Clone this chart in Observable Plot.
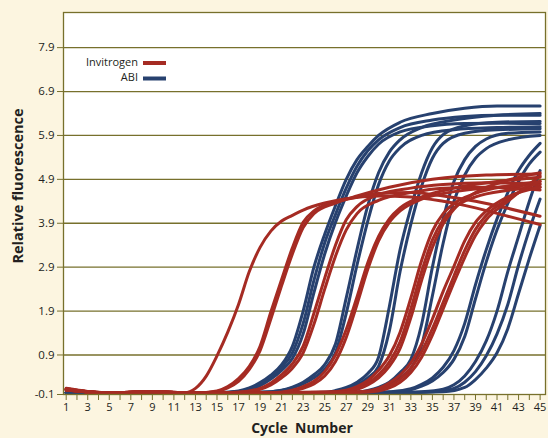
<!DOCTYPE html>
<html><head><meta charset="utf-8">
<script src="https://cdn.jsdelivr.net/npm/d3@7"></script>
<script src="https://cdn.jsdelivr.net/npm/@observablehq/plot@0.6"></script>
<style>
html,body{margin:0;padding:0;background:#fcf5e0;}
#chart{width:548px;height:438px;position:relative;}
svg{font-family:"Open Sans",sans-serif;}
</style></head><body><div id="chart"></div>
<script>
// ---- series & styling ----
const seriesNames = ["Invitrogen", "ABI"];
const seriesColors = ["#a52b23", "#27416f"];

// ---- axis ticks ----
const xTicks = [1,2,3,4,5,6,7,8,9,10,11,12,13,14,15,16,17,18,19,20,21,22,23,24,25,26,27,28,29,30,31,32,33,34,35,36,37,38,39,40,41,42,43,44,45];
const xTickLabels = ["1","","3","","5","","7","","9","","11","","13","","15","","17","","19","","21","","23","","25","","27","","29","","31","","33","","35","","37","","39","","41","","43","","45"];
const yTicks = [0, 0.9, 1.9, 2.9, 3.9, 4.9, 5.9, 6.9, 7.9];
const yTickLabels = ["-0.1", "0.9", "1.9", "2.9", "3.9", "4.9", "5.9", "6.9", "7.9"];

// ---- Invitrogen curves: [cycle, relative fluorescence] ----
const inv1 = [[1,0.14],[3,0.07],[5,0.03],[7,0.04],[9,0.07],[11,0.04],[12,0.04],[13,0.14],[14,0.42],[15,0.88],[16,1.42],[17,2.05],[18,2.8],[19,3.35],[20,3.72],[21,3.95],[22,4.08],[23,4.2],[25,4.36],[27,4.46],[30,4.52],[33,4.5],[36,4.4],[39,4.25],[42,4.06],[45,3.87]];
const inv2 = [[1,0.12],[3,0.06],[5,0.03],[7,0.05],[9,0.06],[11,0.03],[13,0.03],[15,0.08],[16,0.18],[17,0.36],[18,0.64],[19,1.1],[20,1.88],[21,2.62],[22,3.34],[23,3.92],[24,4.18],[26,4.38],[28,4.5],[30,4.58],[33,4.6],[36,4.52],[39,4.4],[42,4.24],[45,4.06]];
const inv3 = [[1,0.11],[3,0.06],[5,0.04],[7,0.05],[9,0.07],[11,0.04],[13,0.03],[15,0.07],[16,0.15],[17,0.3],[18,0.57],[19,1.0],[20,1.72],[21,2.48],[22,3.2],[23,3.8],[24,4.12],[26,4.36],[28,4.52],[31,4.72],[35,4.9],[40,5.0],[45,5.02]];
const inv4 = [[1,0.1],[5,0.03],[9,0.06],[13,0.03],[17,0.05],[19,0.14],[20,0.26],[21,0.45],[22,0.7],[23,1.1],[24,1.85],[25,2.65],[26,3.4],[27,3.98],[28,4.28],[30,4.55],[33,4.7],[36,4.78],[40,4.82],[45,4.8]];
const inv5 = [[1,0.11],[5,0.04],[9,0.06],[13,0.03],[17,0.05],[19,0.12],[20,0.22],[21,0.38],[22,0.6],[23,0.95],[24,1.6],[25,2.4],[26,3.15],[27,3.75],[28,4.12],[30,4.42],[33,4.6],[36,4.7],[40,4.72],[45,4.66]];
const inv6 = [[1,0.12],[5,0.03],[9,0.06],[13,0.03],[20,0.04],[22,0.1],[23,0.18],[24,0.3],[25,0.52],[26,0.9],[27,1.48],[28,2.22],[29,3.0],[30,3.6],[31,4.0],[32,4.25],[34,4.5],[37,4.7],[41,4.85],[45,4.95]];
const inv7 = [[1,0.1],[5,0.04],[9,0.06],[13,0.03],[20,0.04],[22,0.08],[23,0.14],[24,0.24],[25,0.42],[26,0.75],[27,1.3],[28,2.05],[29,2.85],[30,3.5],[31,3.92],[32,4.18],[34,4.45],[37,4.62],[41,4.72],[45,4.78]];
const inv8 = [[1,0.12],[5,0.03],[9,0.06],[13,0.03],[25,0.05],[27,0.1],[28,0.18],[29,0.32],[30,0.55],[31,0.88],[32,1.42],[33,2.2],[34,3.05],[35,3.72],[36,4.12],[37,4.35],[39,4.58],[42,4.75],[45,4.85]];
const inv9 = [[1,0.1],[5,0.04],[9,0.06],[13,0.03],[25,0.05],[27,0.08],[28,0.14],[29,0.26],[30,0.45],[31,0.74],[32,1.2],[33,1.95],[34,2.8],[35,3.52],[36,3.98],[37,4.25],[39,4.5],[42,4.65],[45,4.72]];
const inv10 = [[1,0.13],[5,0.03],[9,0.07],[13,0.03],[25,0.05],[27,0.07],[28,0.12],[29,0.22],[30,0.38],[31,0.64],[32,1.05],[33,1.75],[34,2.6],[35,3.35],[36,3.88],[37,4.22],[39,4.6],[42,4.88],[45,5.05]];
const inv11 = [[1,0.12],[5,0.03],[9,0.06],[13,0.03],[27,0.05],[29,0.08],[30,0.14],[31,0.26],[32,0.44],[33,0.72],[34,1.15],[35,1.72],[36,2.35],[37,2.92],[38,3.5],[39,3.92],[40,4.18],[42,4.5],[45,4.72]];
const inv12 = [[1,0.11],[5,0.04],[9,0.06],[13,0.03],[28,0.05],[30,0.1],[31,0.2],[32,0.35],[33,0.6],[34,0.98],[35,1.5],[36,2.1],[37,2.7],[38,3.28],[39,3.76],[40,4.08],[42,4.45],[45,4.86]];
const inv13 = [[1,0.13],[5,0.03],[9,0.07],[13,0.03],[28,0.05],[30,0.08],[31,0.15],[32,0.28],[33,0.5],[34,0.85],[35,1.35],[36,1.95],[37,2.55],[38,3.12],[39,3.62],[40,3.98],[42,4.4],[45,4.98]];

// ---- ABI curves: [cycle, relative fluorescence] ----
const abi1 = [[1,0.05],[5,0.02],[10,0.03],[15,0.04],[17,0.08],[18,0.15],[19,0.27],[20,0.44],[21,0.68],[22,1.1],[23,1.9],[24,2.9],[25,3.65],[26,4.3],[27,4.9],[28,5.35],[29,5.65],[30,5.9],[32,6.2],[35,6.4],[38,6.52],[41,6.57],[45,6.57]];
const abi2 = [[1,0.05],[5,0.03],[10,0.03],[15,0.04],[17,0.07],[18,0.13],[19,0.24],[20,0.4],[21,0.62],[22,0.95],[23,1.62],[24,2.6],[25,3.45],[26,4.1],[27,4.7],[28,5.2],[29,5.55],[30,5.8],[32,6.08],[35,6.25],[38,6.33],[41,6.36],[45,6.36]];
const abi3 = [[1,0.04],[5,0.02],[10,0.03],[15,0.04],[17,0.06],[18,0.11],[19,0.2],[20,0.35],[21,0.55],[22,0.82],[23,1.38],[24,2.32],[25,3.2],[26,3.92],[27,4.52],[28,5.05],[29,5.42],[30,5.7],[32,5.98],[35,6.12],[38,6.17],[41,6.18],[45,6.17]];
const abi4 = [[1,0.04],[10,0.03],[19,0.05],[21,0.1],[22,0.17],[23,0.28],[24,0.45],[25,0.68],[26,1.15],[27,2.2],[28,3.3],[29,4.3],[30,5.05],[31,5.52],[32,5.8],[34,6.08],[37,6.25],[41,6.36],[45,6.4]];
const abi5 = [[1,0.04],[10,0.03],[19,0.05],[21,0.09],[22,0.15],[23,0.24],[24,0.38],[25,0.58],[26,0.95],[27,1.85],[28,2.95],[29,3.95],[30,4.78],[31,5.32],[32,5.62],[34,5.9],[37,6.03],[41,6.08],[45,6.1]];
const abi6 = [[1,0.04],[10,0.03],[20,0.03],[25,0.05],[26,0.09],[27,0.16],[28,0.28],[29,0.48],[30,0.85],[31,2.0],[32,3.3],[33,4.25],[34,5.05],[35,5.62],[36,5.92],[38,6.12],[41,6.2],[45,6.22]];
const abi7 = [[1,0.04],[10,0.03],[20,0.03],[25,0.04],[26,0.07],[27,0.13],[28,0.22],[29,0.38],[30,0.64],[31,1.45],[32,2.8],[33,3.88],[34,4.75],[35,5.38],[36,5.72],[38,5.95],[41,6.03],[45,6.05]];
const abi8 = [[1,0.04],[10,0.03],[25,0.03],[28,0.05],[29,0.09],[30,0.16],[31,0.28],[32,0.5],[33,0.8],[34,1.6],[35,2.9],[36,4.0],[37,4.85],[38,5.35],[39,5.65],[40,5.82],[42,5.95],[45,5.98]];
const abi9 = [[1,0.04],[10,0.03],[25,0.03],[29,0.07],[30,0.12],[31,0.22],[32,0.38],[33,0.6],[34,1.12],[35,2.25],[36,3.45],[37,4.4],[38,5.0],[39,5.38],[40,5.6],[42,5.8],[45,5.9]];
const abi10 = [[1,0.04],[10,0.03],[28,0.03],[31,0.06],[33,0.13],[34,0.23],[35,0.38],[36,0.62],[37,1.0],[38,1.62],[39,2.5],[40,3.3],[41,4.0],[42,4.6],[43,5.1],[44,5.45],[45,5.72]];
const abi11 = [[1,0.04],[10,0.03],[28,0.03],[32,0.07],[33,0.11],[34,0.19],[35,0.31],[36,0.5],[37,0.8],[38,1.32],[39,2.18],[40,3.02],[41,3.75],[42,4.35],[43,4.85],[44,5.25],[45,5.52]];
const abi12 = [[1,0.04],[10,0.03],[30,0.03],[34,0.06],[36,0.12],[37,0.22],[38,0.42],[39,0.75],[40,1.22],[41,1.9],[42,2.8],[43,3.6],[44,4.4],[45,5.1]];
const abi13 = [[1,0.04],[10,0.03],[30,0.03],[35,0.06],[37,0.14],[38,0.28],[39,0.52],[40,0.88],[41,1.38],[42,2.05],[43,2.95],[44,3.75],[45,4.45]];
const abi14 = [[1,0.04],[10,0.03],[30,0.03],[36,0.06],[38,0.16],[39,0.34],[40,0.6],[41,0.95],[42,1.5],[43,2.3],[44,3.1],[45,3.85]];

const invitrogenCurves = [inv1,inv2,inv3,inv4,inv5,inv6,inv7,inv8,inv9,inv10,inv11,inv12,inv13];
const abiCurves = [abi1,abi2,abi3,abi4,abi5,abi6,abi7,abi8,abi9,abi10,abi11,abi12,abi13,abi14];

// build long table (ABI drawn first, Invitrogen on top)
const rows = [];
[abiCurves, invitrogenCurves].forEach((group, gi) => {
  const series = gi === 0 ? seriesNames[1] : seriesNames[0];
  group.forEach((curve, ci) => {
    curve.forEach(([c, v]) => rows.push({series, id: series + ci, cycle: c, value: v}));
  });
});

const olive = "#77702c";
const ink = "#231f20";

const plot = Plot.plot({
  width: 548,
  height: 438,
  marginLeft: 63,
  marginRight: 3,
  marginTop: 12,
  marginBottom: 44,
  style: {background: "transparent", fontFamily: "'Open Sans', sans-serif", fontSize: "11px", color: ink},
  x: {domain: [0.75, 45.5], label: null},
  y: {domain: [0, 8.7], label: null},
  color: {domain: seriesNames, range: seriesColors},
  marks: [
    Plot.frame({fill: "white", stroke: "none"}),
    Plot.ruleY(yTicks.slice(1), {stroke: olive, strokeWidth: 1.3}),
    Plot.line(rows, {x: "cycle", y: "value", z: "id", stroke: "series", strokeWidth: 3, curve: "monotone-x", strokeLinejoin: "round"}),
    Plot.frame({stroke: olive, strokeWidth: 1.3}),
    Plot.axisX({ticks: xTicks, tickSize: 6, tickPadding: 3, stroke: olive, fill: ink, fontSize: 11,
      tickFormat: d => xTickLabels[xTicks.indexOf(d)], label: null}),
    Plot.axisY({ticks: yTicks, tickSize: 6, tickPadding: 3, stroke: olive, fill: ink, fontSize: 11.5,
      tickFormat: d => yTickLabels[yTicks.indexOf(d)], label: null})
  ]
});

const svg = d3.select(plot);
// axis titles
svg.append("text")
  .attr("transform", "translate(19,186) rotate(-90)")
  .attr("text-anchor", "middle")
  .attr("dominant-baseline", "middle")
  .attr("font-weight", "bold").attr("font-size", 14.5).attr("fill", ink)
  .text("Relative fluorescence");
svg.append("text")
  .attr("x", 302).attr("y", 433)
  .attr("text-anchor", "middle")
  .attr("font-weight", "bold").attr("font-size", 14).attr("fill", ink)
  .attr("xml:space", "preserve").style("white-space", "pre")
  .text("Cycle  Number");
// legend
const leg = svg.append("g");
seriesNames.forEach((name, i) => {
  const y = 63 + i * 15.5;
  leg.append("text").attr("x", 138).attr("y", y).attr("text-anchor", "end")
    .attr("dominant-baseline", "middle").attr("font-size", 11).attr("fill", ink).text(name);
  leg.append("line").attr("x1", 143).attr("x2", 166).attr("y1", y).attr("y2", y)
    .attr("stroke", seriesColors[i]).attr("stroke-width", 4);
});

document.getElementById("chart").appendChild(plot);
</script>
</body></html>
